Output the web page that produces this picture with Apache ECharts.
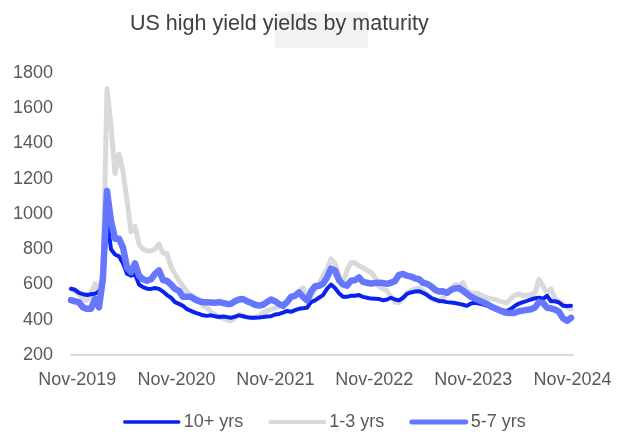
<!DOCTYPE html>
<html>
<head>
<meta charset="utf-8">
<script src="https://cdn.jsdelivr.net/npm/echarts@6/dist/echarts.min.js"></script>
<style>
  html, body { margin: 0; padding: 0; background: #ffffff; }
  #chart { width: 632px; height: 440px; }
</style>
</head>
<body>
<div id="chart"></div>
<script>
// Series names (legend order)
const seriesNames = ['10+ yrs', '1-3 yrs', '5-7 yrs'];

// Sampling: one observation every ~2 weeks starting from startDate
const startDate = '2019-10-09';
const endDate = '2024-11-03';
const stepDays = 14.757;

// X-axis tick labels (November of each year)
const tickYears = [2019, 2020, 2021, 2022, 2023, 2024];
// Y-axis ticks
const yTicks = [200, 400, 600, 800, 1000, 1200, 1400, 1600, 1800];

// 10+ yrs
const tenPlus = [
  576, 570, 553, 545, 540, 545, 547, 560, 600, 980,
  800, 770, 760, 720, 661, 650, 660, 600, 585, 576,
  575, 580, 575, 560, 540, 525, 500, 490, 479, 460,
  450, 440, 433, 425, 422, 425, 420, 416, 418, 415,
  411, 418, 425, 420, 415, 411, 412, 413, 415, 418,
  420, 430, 433, 440, 450, 445, 455, 462, 465, 468,
  500, 510, 525, 540, 575, 600, 580, 550, 530, 530,
  536, 536, 540, 530, 525, 520, 519, 518, 510, 515,
  525, 515, 510, 525, 547, 555, 560, 562, 553, 540,
  525, 515, 507, 505, 500, 498, 495, 490, 485, 479,
  492, 496, 492, 488, 480, 472, 465, 458, 452, 450,
  462, 479, 492, 500, 507, 515, 522, 525, 519, 536,
  505, 505, 498, 480, 478, 480
];

// 1-3 yrs
const oneToThree = [
  576, 560, 545, 515, 510, 545, 604, 560, 660, 1710,
  1500, 1230, 1340, 1240, 1077, 900, 930, 830, 800, 792,
  790, 800, 830, 780, 775, 700, 660, 621, 590, 560,
  540, 525, 515, 480, 470, 445, 430, 415, 410, 400,
  394, 410, 430, 425, 411, 411, 415, 422, 440, 450,
  460, 465, 475, 480, 500, 530, 536, 560, 581, 510,
  530, 570, 604, 650, 690, 745, 720, 650, 610, 680,
  724, 724, 705, 695, 680, 670, 640, 590, 575, 564,
  530, 500, 496, 520, 553, 564, 575, 581, 565, 545,
  520, 510, 505, 525, 553, 575, 600, 595, 610, 564,
  553, 550, 547, 535, 525, 520, 515, 507, 500, 496,
  520, 540, 547, 536, 540, 542, 553, 630, 590, 553,
  575, 520, 505, 490, 470, 462
];

// 5-7 yrs
const fiveToSeven = [
  511, 505, 498, 470, 462, 462, 519, 470, 640, 1130,
  960, 860, 860, 809, 695, 670, 720, 650, 630, 621,
  630, 660, 680, 625, 620, 600, 575, 564, 530, 530,
  530, 515, 505, 500, 500, 498, 496, 500, 495, 490,
  490, 505, 515, 518, 505, 496, 485, 480, 485, 500,
  515, 505, 490, 479, 500, 530, 536, 555, 530, 510,
  560, 590, 593, 604, 640, 690, 680, 625, 600, 593,
  621, 625, 640, 615, 610, 605, 608, 610, 608, 604,
  610, 620, 655, 660, 650, 645, 635, 630, 610, 604,
  590, 570, 560, 562, 553, 570, 578, 580, 565, 547,
  530, 520, 510, 500, 490, 475, 465, 455, 445, 439,
  438, 440, 448, 452, 456, 460, 470, 500, 496, 468,
  465, 458, 445, 408, 394, 411
];

const DAY = 86400000;
const t0 = Date.parse(startDate);
const totalDays = (Date.parse(endDate) - t0) / DAY;
// x position = days elapsed since startDate
const withDays = values => values.map((v, i) => [i * stepDays, v]);
const dayOf = (y, m, d) => (Date.UTC(y, m, d) - t0) / DAY;

const colors = ['#0a22f0', '#d9d9d9', '#6677ff'];
const widths = [4, 5, 6.5];
const legendWidths = [3.5, 4, 5];
const zOrder = [3, 2, 4];
const seriesValues = [tenPlus, oneToThree, fiveToSeven];

const font = "'Liberation Sans', Arial, sans-serif";

const chart = echarts.init(document.getElementById('chart'), null, { renderer: 'canvas' });

chart.setOption({
  animation: false,
  backgroundColor: '#ffffff',
  title: {
    text: 'US high yield yields by maturity',
    left: 125,
    top: 8,
    z: 10,
    textStyle: { fontFamily: font, fontSize: 21.5, fontWeight: 'normal', color: '#404040' }
  },
  graphic: [{
    type: 'rect',
    z: 0,
    silent: true,
    shape: { x: 275, y: 12, width: 93, height: 36 },
    style: { fill: '#f2f2f2' }
  }],
  legend: {
    data: seriesNames.map((name, k) => ({
      name,
      lineStyle: { width: legendWidths[k], cap: 'round' }
    })),
    left: 123,
    top: 413,
    padding: 0,
    itemWidth: 54,
    itemHeight: 14,
    itemGap: 25,
    itemStyle: { color: 'rgba(0,0,0,0)', borderColor: 'rgba(0,0,0,0)', borderWidth: 0 },
    textStyle: { fontFamily: font, fontSize: 18, color: '#595959' }
  },
  grid: {
    left: 71,
    right: 59,
    top: 73,
    bottom: 85,
    containLabel: false,
    outerBoundsMode: 'none'
  },
  xAxis: {
    type: 'value',
    min: 0,
    max: totalDays,
    axisLine: { show: true, lineStyle: { color: '#d9d9d9', width: 2 } },
    axisTick: { show: false },
    splitLine: { show: false },
    axisLabel: {
      customValues: tickYears.map(y => dayOf(y, 10, 1)),
      formatter: v => 'Nov-' + new Date(t0 + v * DAY + DAY).getUTCFullYear(),
      fontFamily: font,
      fontSize: 18,
      color: '#595959',
      margin: 16,
      hideOverlap: false
    }
  },
  yAxis: {
    type: 'value',
    min: yTicks[0],
    max: yTicks[yTicks.length - 1],
    interval: yTicks[1] - yTicks[0],
    axisLine: { show: false },
    axisTick: { show: false },
    splitLine: { show: false },
    axisLabel: {
      formatter: v => String(v),
      fontFamily: font, fontSize: 18, color: '#595959', margin: 18
    }
  },
  series: seriesNames.map((name, k) => ({
    name,
    type: 'line',
    data: withDays(seriesValues[k]),
    symbol: 'none',
    smooth: false,
    z: zOrder[k],
    itemStyle: { color: colors[k] },
    lineStyle: { color: colors[k], width: widths[k], join: 'round', cap: 'round' }
  }))
});
</script>
</body>
</html>
